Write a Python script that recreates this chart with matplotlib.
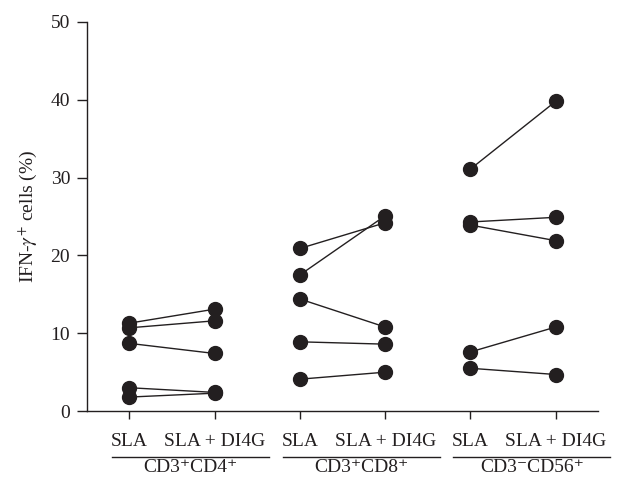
import matplotlib
matplotlib.use('Agg')

import matplotlib.pyplot as plt
import matplotlib.transforms as mtransforms

plt.rcParams['font.family'] = ['Liberation Serif', 'DejaVu Serif']
plt.rcParams['mathtext.fontset'] = 'stix'

groups = ['CD3\u207aCD4\u207a', 'CD3\u207aCD8\u207a', 'CD3\u207bCD56\u207a']
conditions = ['SLA', 'SLA + DI4G']

# paired values per donor: (SLA, SLA + DI4G)
cd4_sla = [11.3, 10.7, 8.7, 3.0, 1.8]
cd4_di4g = [13.1, 11.6, 7.4, 2.4, 2.3]
cd8_sla = [20.9, 17.5, 14.4, 8.9, 4.1]
cd8_di4g = [24.2, 25.1, 10.8, 8.6, 5.0]
cd56_sla = [31.1, 24.3, 23.9, 7.6, 5.5]
cd56_di4g = [39.8, 24.9, 21.9, 10.8, 4.7]

series = [(cd4_sla, cd4_di4g), (cd8_sla, cd8_di4g), (cd56_sla, cd56_di4g)]
yticks = [0, 10, 20, 30, 40, 50]

col = '#231f20'

fig = plt.figure(figsize=(6.2, 4.78), dpi=100)
ax = fig.add_axes([0.140, 0.140, 0.825, 0.814])

for g, (a, b) in enumerate(series):
    x0, x1 = 2 * g, 2 * g + 1
    for va, vb in zip(a, b):
        ax.plot([x0, x1], [va, vb], '-', color=col, lw=1.0,
                marker='o', markersize=10, markerfacecolor=col,
                markeredgecolor=col, clip_on=False, zorder=3)

ax.set_xlim(-0.5, 5.5)
ax.set_ylim(0, 50)
ax.set_yticks(yticks)
ax.set_xticks(range(6))
ax.set_xticklabels(conditions * 3)
ax.spines['top'].set_visible(False)
ax.spines['right'].set_visible(False)
for s in ['left', 'bottom']:
    ax.spines[s].set_linewidth(1.0)
    ax.spines[s].set_color(col)
ax.tick_params(axis='y', direction='out', length=7, width=1, pad=5,
               labelsize=14, colors=col)
ax.tick_params(axis='x', direction='out', length=6, width=1, pad=10,
               labelsize=14, colors=col)
ax.set_ylabel('IFN-$\\gamma^{+}$ cells (%)', fontsize=14, color=col, labelpad=8)

# group underlines and names below the condition labels
trans = mtransforms.blended_transform_factory(ax.transData, ax.transAxes)
for g, name in enumerate(groups):
    left = 2 * g - 0.2
    right = 2 * g + 1 + 0.64
    ax.plot([left, right], [-0.118, -0.118], color=col, lw=1.0,
            transform=trans, clip_on=False)
    ax.text((left + right) / 2, -0.124, name, transform=trans,
            ha='center', va='top', fontsize=14, color=col)

fig.savefig('out.png', dpi=100)
